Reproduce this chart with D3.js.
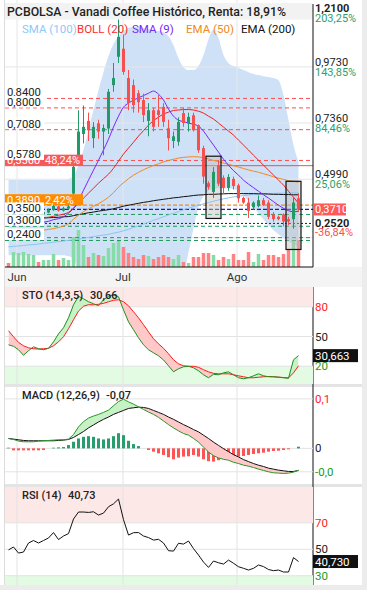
<!DOCTYPE html>
<html><head><meta charset="utf-8">
<script src="https://cdn.jsdelivr.net/npm/d3@7/dist/d3.min.js"></script>
<style>html,body{margin:0;padding:0;background:#fff}svg{display:block;font-family:Roboto,"Noto Sans",sans-serif}</style>
</head><body><svg id="chart" width="367" height="590"></svg>
<script>
const title = "PCBOLSA - Vanadi Coffee Histórico, Renta: 18,91%";
const monthIdx = [1.7, 22.9, 45.7];
const monthLabels = ["Jun", "Jul", "Ago"];
const open  = [0.340,0.332,0.325,0.326,0.336,0.348,0.358,0.350,0.358,0.368,0.384,0.366,0.375,0.438,0.585,0.690,0.745,0.672,0.735,0.700,0.713,0.896,1.016,1.050,0.926,0.896,0.862,0.833,0.745,0.790,0.790,0.804,0.714,0.660,0.657,0.778,0.734,0.769,0.727,0.630,0.482,0.445,0.558,0.505,0.462,0.500,0.473,0.420,0.400,0.380,0.385,0.410,0.400,0.350,0.340,0.350,0.330,0.330,0.418];
const high  = [0.348,0.350,0.340,0.340,0.355,0.362,0.362,0.365,0.375,0.392,0.388,0.382,0.392,0.580,0.790,0.810,0.780,0.740,0.750,0.730,0.880,0.990,1.210,1.110,0.960,0.920,0.875,0.860,0.820,0.800,0.854,0.820,0.750,0.700,0.760,0.800,0.780,0.780,0.730,0.640,0.490,0.550,0.580,0.515,0.520,0.510,0.480,0.425,0.420,0.405,0.430,0.420,0.410,0.360,0.345,0.355,0.340,0.420,0.440];
const low   = [0.330,0.328,0.320,0.322,0.333,0.345,0.345,0.347,0.355,0.365,0.362,0.362,0.370,0.395,0.560,0.650,0.660,0.630,0.670,0.600,0.690,0.868,0.990,0.940,0.790,0.780,0.780,0.740,0.680,0.700,0.720,0.720,0.620,0.630,0.640,0.720,0.700,0.700,0.610,0.480,0.455,0.420,0.470,0.440,0.450,0.455,0.400,0.395,0.335,0.370,0.380,0.385,0.330,0.320,0.325,0.300,0.305,0.290,0.360];
const close = [0.335,0.345,0.332,0.336,0.350,0.358,0.350,0.360,0.370,0.386,0.366,0.376,0.384,0.551,0.700,0.720,0.705,0.720,0.700,0.715,0.868,0.926,1.100,0.952,0.820,0.812,0.824,0.770,0.790,0.720,0.770,0.741,0.672,0.680,0.741,0.736,0.762,0.706,0.621,0.510,0.465,0.530,0.480,0.462,0.508,0.470,0.418,0.400,0.365,0.400,0.410,0.390,0.340,0.330,0.330,0.320,0.320,0.400,0.371];
const volume = [4000,15000,14000,15000,13000,12000,5000,7000,7000,13000,7000,9000,7000,30000,37000,22000,10000,14000,12000,11000,19000,24000,26000,20000,14000,10000,8000,12000,11000,8000,10000,12000,10000,8000,12000,5000,4000,10000,10000,14000,14000,12000,7000,10000,8000,13000,7000,7000,15000,5000,13000,7000,12000,12000,10000,13000,17000,27000,27000];
const sma100 = [0.213,0.215,0.217,0.219,0.221,0.223,0.225,0.228,0.230,0.233,0.235,0.238,0.240,0.243,0.246,0.249,0.253,0.256,0.260,0.263,0.266,0.271,0.275,0.281,0.287,0.295,0.302,0.309,0.317,0.325,0.332,0.340,0.348,0.355,0.362,0.370,0.376,0.383,0.389,0.395,0.400,0.406,0.411,0.416,0.420,0.424,0.427,0.430,0.432,0.435,0.436,0.438,0.438,0.439,0.440,0.440,0.440,0.441,0.441];
const ema200 = [0.328,0.329,0.330,0.331,0.332,0.333,0.334,0.335,0.336,0.337,0.338,0.340,0.341,0.345,0.349,0.353,0.357,0.360,0.364,0.367,0.370,0.374,0.379,0.385,0.389,0.393,0.397,0.401,0.404,0.408,0.411,0.414,0.417,0.420,0.422,0.425,0.427,0.430,0.432,0.433,0.435,0.435,0.436,0.437,0.438,0.438,0.438,0.438,0.438,0.438,0.437,0.437,0.436,0.435,0.435,0.434,0.434,0.433,0.433];
const ema50 = [0.266,0.269,0.271,0.273,0.275,0.278,0.280,0.283,0.287,0.290,0.295,0.301,0.311,0.330,0.347,0.362,0.374,0.385,0.395,0.408,0.423,0.442,0.465,0.484,0.501,0.516,0.528,0.539,0.548,0.557,0.564,0.572,0.578,0.583,0.588,0.591,0.593,0.594,0.593,0.590,0.584,0.578,0.573,0.567,0.562,0.556,0.550,0.544,0.538,0.533,0.528,0.522,0.516,0.509,0.503,0.498,0.493,0.490,0.486];
const sma9 = [0.313,0.311,0.309,0.309,0.311,0.313,0.315,0.317,0.321,0.328,0.332,0.340,0.355,0.376,0.410,0.452,0.495,0.537,0.579,0.622,0.668,0.719,0.765,0.803,0.820,0.833,0.843,0.852,0.862,0.871,0.858,0.833,0.795,0.765,0.748,0.742,0.736,0.731,0.723,0.702,0.672,0.643,0.613,0.583,0.558,0.535,0.516,0.495,0.478,0.463,0.448,0.433,0.419,0.404,0.389,0.376,0.366,0.361,0.364];
const bollMid = [0.334,0.334,0.332,0.330,0.330,0.332,0.334,0.336,0.338,0.342,0.347,0.351,0.359,0.376,0.397,0.419,0.440,0.461,0.482,0.501,0.520,0.545,0.575,0.605,0.630,0.655,0.681,0.704,0.727,0.746,0.761,0.774,0.782,0.789,0.791,0.793,0.793,0.791,0.786,0.778,0.765,0.753,0.736,0.719,0.702,0.685,0.664,0.643,0.622,0.600,0.579,0.558,0.537,0.516,0.495,0.474,0.448,0.423,0.397];
const bollUp = [0.495,0.495,0.495,0.495,0.495,0.495,0.495,0.495,0.495,0.495,0.495,0.495,0.499,0.512,0.558,0.622,0.706,0.791,0.875,0.951,1.019,1.070,1.103,1.125,1.137,1.142,1.142,1.137,1.133,1.129,1.125,1.120,1.103,1.065,1.010,0.972,0.960,0.960,0.977,1.023,1.090,1.130,1.095,1.023,0.989,0.977,0.968,0.960,0.951,0.943,0.939,0.934,0.930,0.926,0.917,0.854,0.748,0.643,0.571];
const bollLow = [0.178,0.178,0.178,0.178,0.178,0.178,0.178,0.178,0.178,0.178,0.178,0.178,0.173,0.165,0.114,0.114,0.114,0.114,0.114,0.114,0.114,0.114,0.114,0.114,0.114,0.114,0.114,0.114,0.114,0.114,0.114,0.114,0.114,0.114,0.114,0.114,0.190,0.292,0.381,0.427,0.448,0.457,0.461,0.461,0.461,0.457,0.452,0.431,0.406,0.381,0.355,0.330,0.304,0.283,0.266,0.249,0.237,0.224,0.211];
const stoK = [41.6,40.1,36.6,31.0,35.6,39.6,37.6,36.6,38.1,44.6,52.7,58.8,68.9,82.0,90.6,88.1,85.1,83.1,81.1,87.1,90.6,92.1,90.1,76.9,64.8,56.8,48.7,41.6,36.6,33.5,30.5,26.3,20.4,14.3,17.4,19.4,19.9,18.4,15.3,11.3,8.3,11.8,11.3,13.3,14.3,11.3,8.3,7.3,8.3,10.3,12.3,10.3,9.3,9.3,8.8,8.3,7.8,26.5,30.66];
const stoD = [55.8,49.7,44.1,40.6,38.6,37.6,37.3,37.6,38.1,40.6,44.6,49.7,57.8,66.9,75.6,80.6,82.1,82.0,82.5,83.5,85.1,86.6,87.1,85.1,81.0,75.0,68.9,61.9,54.7,47.7,42.6,38.1,32.5,26.5,22.4,20.4,19.9,19.9,18.9,16.4,14.3,12.8,12.3,12.3,12.3,11.3,10.3,9.3,8.3,8.3,8.8,9.3,9.6,9.3,9.0,8.5,8.1,13.3,20.4];
const macd = [0.030,0.027,0.022,0.020,0.020,0.020,0.022,0.023,0.024,0.025,0.026,0.026,0.028,0.042,0.065,0.081,0.092,0.098,0.103,0.109,0.116,0.129,0.142,0.149,0.141,0.134,0.126,0.118,0.110,0.103,0.094,0.083,0.072,0.062,0.053,0.045,0.040,0.030,0.019,0.004,-0.011,-0.022,-0.029,-0.033,-0.036,-0.042,-0.046,-0.051,-0.054,-0.058,-0.063,-0.067,-0.071,-0.074,-0.075,-0.076,-0.075,-0.072,-0.066];
const signal = [0.030,0.028,0.026,0.024,0.023,0.023,0.023,0.023,0.023,0.023,0.024,0.025,0.027,0.033,0.042,0.051,0.062,0.071,0.080,0.088,0.095,0.103,0.109,0.115,0.121,0.123,0.125,0.124,0.121,0.115,0.109,0.103,0.095,0.088,0.080,0.072,0.065,0.057,0.050,0.040,0.030,0.019,0.009,-0.001,-0.010,-0.019,-0.026,-0.034,-0.040,-0.046,-0.051,-0.055,-0.060,-0.063,-0.066,-0.068,-0.070,-0.070,-0.067];
const hist = [0.002,-0.006,-0.006,-0.006,-0.006,-0.006,-0.006,-0.005,0,0.002,0.003,0.004,0.010,0.020,0.030,0.035,0.037,0.035,0.030,0.027,0.030,0.037,0.046,0.040,0.023,0.013,0.007,0,-0.005,-0.010,-0.015,-0.020,-0.027,-0.033,-0.028,-0.025,-0.024,-0.020,-0.025,-0.033,-0.039,-0.040,-0.036,-0.033,-0.030,-0.027,-0.025,-0.023,-0.020,-0.017,-0.015,-0.013,-0.010,-0.008,-0.007,-0.005,-0.003,0,0.005];
const rsi = [49.5,51.7,47.1,47.9,54.7,56.6,54.7,56.6,58.5,62.6,57.3,60.0,61.8,72.8,78.1,78.1,77.8,78.3,75.8,77.3,82.1,84.3,87.9,72.3,60.7,62.5,62.6,60.0,58.8,56.9,57.5,54.7,48.9,48.6,54.5,53.9,56.2,50.5,45.6,40.3,36.3,41.1,39.8,38.8,41.8,39.4,36.8,35.6,34.3,35.6,38.1,36.9,34.7,33.8,34.3,32.8,32.8,43.7,40.73];
const priceTicks = [1.21, 0.973, 0.736, 0.499, 0.252];
const pctLabels = ["203,25%", "143,85%", "84,46%", "25,06%", "-36,84%"];
const resistances = [0.84, 0.80, 0.708, 0.578];
const supports = [0.35, 0.30, 0.252, 0.24];
const supportLabels = [0.35, 0.30, 0.24];
const dottedLevel = 0.312;
const redLevel = 0.556, redLevelPct = "48,24%";
const orangeLevel = 0.389, orangeLevelPct = "2,42%";
const lastPrice = 0.371;
const boxes = [{from: 40, to: 42, top: 0.596, bottom: 0.333}, {from: 56, to: 58, top: 0.490, bottom: 0.202}];
const legendNames = ["SMA (100)", "BOLL (20)", "SMA (9)", "EMA (50)", "EMA (200)"];

const svg = d3.select("#chart");
const N = close.length;
const L = 5, R = 313;
const x = d3.scaleLinear().domain([0, N - 1]).range([8.5, 298.5]);
const yP = d3.scaleLinear().domain([0.128, 1.2557]).range([267, 0]);
const yV = d3.scaleLinear().domain([0, 37000]).range([267, 230]);
const yS = d3.scaleLinear().domain([2, 100]).range([384, 287]);
const yM = d3.scaleLinear().domain([-0.108, 0.186]).range([484, 387]);
const yR = d3.scaleLinear().domain([23, 97]).range([585, 487]);
const f4 = v => d3.format(".4f")(v).replace(".", ",");
const idx = d3.range(N);
const GREEN = "#23996a", RED = "#f5504e";

svg.append("rect").attr("width", 367).attr("height", 590).attr("fill", "#fff");
svg.append("rect").attr("x", 362).attr("y", 0).attr("width", 5).attr("height", 590).attr("fill", "#ececec");
svg.append("rect").attr("x", 0).attr("y", 585).attr("width", 367).attr("height", 5).attr("fill", "#ececec");
svg.append("rect").attr("x", L).attr("y", 267).attr("width", 357).attr("height", 20).attr("fill", "#f4f4f4");
svg.append("rect").attr("x", L).attr("y", 384).attr("width", 357).attr("height", 3).attr("fill", "#e4e4e4");
svg.append("rect").attr("x", L).attr("y", 484).attr("width", 357).attr("height", 3).attr("fill", "#e4e4e4");
svg.append("line").attr("x1", 4.5).attr("x2", 4.5).attr("y1", 0).attr("y2", 585).attr("stroke", "#dcdcdc");

const defs = svg.append("defs");
defs.append("clipPath").attr("id", "mainClip").append("rect").attr("x", L).attr("y", 0).attr("width", R - L).attr("height", 267);
const main = svg.append("g").attr("clip-path", "url(#mainClip)");

main.append("path").datum(idx)
  .attr("d", d3.area().x(i => x(i)).y0(i => yP(bollLow[i])).y1(i => yP(bollUp[i])).curve(d3.curveMonotoneX))
  .attr("fill", "#cfe1f7");

priceTicks.forEach(t => main.append("line").attr("x1", L).attr("x2", R).attr("y1", yP(t)).attr("y2", yP(t)).attr("stroke", "#e6e6e6"));
monthIdx.forEach(m => main.append("line").attr("x1", x(m)).attr("x2", x(m)).attr("y1", 0).attr("y2", 267).attr("stroke", "#e6e6e6"));

main.selectAll(".vol").data(idx).enter().append("rect")
  .attr("x", i => x(i) - 1.75).attr("width", 3.5)
  .attr("y", i => yV(volume[i])).attr("height", i => 267 - yV(volume[i]))
  .attr("fill", i => close[i] >= open[i] ? "#86dca6" : "#ff8282");

function hline(v, color, dash, w) {
  main.append("line").attr("x1", L).attr("x2", R).attr("y1", yP(v)).attr("y2", yP(v))
    .attr("stroke", color).attr("stroke-width", w || 1).attr("stroke-dasharray", dash);
}
resistances.forEach(v => hline(v, "#ff4d4d", "4,3"));
hline(redLevel, "#f05050", null, 1);
hline(orangeLevel, "#f08c1a", "4,2", 1.2);
hline(lastPrice, "#1a1acc", "4,2", 1.3);
hline(dottedLevel, "#222", "2,2", 1);
supports.forEach(v => hline(v, "#1e9a5a", "4,3"));

boxes.forEach(b => main.append("rect").attr("x", x(b.from) - 2.5).attr("width", x(b.to) - x(b.from) + 5)
  .attr("y", yP(b.top)).attr("height", yP(b.bottom) - yP(b.top)).attr("fill", "rgba(190,190,190,0.45)"));

const lineGen = arr => d3.line().x(i => x(i)).y(i => yP(arr[i])).curve(d3.curveMonotoneX)(idx);
[[sma100, "#8cc4f2"], [ema200, "#111"], [ema50, "#ee8a22"], [bollMid, "#ee2222"], [sma9, "#7a28f5"]]
  .forEach(([arr, c]) => main.append("path").attr("d", lineGen(arr)).attr("fill", "none").attr("stroke", c).attr("stroke-width", 1));

const cg = main.append("g");
idx.forEach(i => {
  const up = close[i] >= open[i];
  const c = up ? GREEN : RED;
  cg.append("line").attr("x1", x(i)).attr("x2", x(i)).attr("y1", yP(high[i])).attr("y2", yP(low[i])).attr("stroke", c).attr("stroke-width", 1);
  const yt = yP(Math.max(open[i], close[i])), yb = yP(Math.min(open[i], close[i]));
  cg.append("rect").attr("x", x(i) - 1.5).attr("width", 3).attr("y", yt).attr("height", Math.max(1, yb - yt)).attr("fill", c);
});
boxes.forEach(b => main.append("rect").attr("x", x(b.from) - 2.5).attr("width", x(b.to) - x(b.from) + 5)
  .attr("y", yP(b.top)).attr("height", yP(b.bottom) - yP(b.top)).attr("fill", "none").attr("stroke", "#111").attr("stroke-width", 1.2));

svg.append("rect").attr("x", L).attr("y", 3).attr("width", R - L - 1).attr("height", 16.5).attr("fill", "#f2f2f2");
svg.append("text").attr("x", 7).attr("y", 15.5).attr("font-size", 12.3).attr("font-weight", 500).attr("fill", "#222").text(title);
const legendColors = ["#90c8f6", "#ff2a2a", "#7a28f5", "#ee8a22", "#111"];
const legendX = [22, 77, 132, 186, 241];
legendNames.forEach((n, k) => svg.append("text").attr("x", legendX[k]).attr("y", 33).attr("font-size", 11.5).attr("fill", legendColors[k]).text(n));

function colorBox(v, bg, t1, t2) {
  const y = yP(v);
  svg.append("rect").attr("x", L).attr("y", y - 11).attr("width", 78).attr("height", 11).attr("fill", bg);
  svg.append("text").attr("x", 7).attr("y", y - 1.5).attr("font-size", 11).attr("fill", "#fff").text(t1);
  svg.append("text").attr("x", 45).attr("y", y - 1.5).attr("font-size", 11).attr("fill", "#fff").text(t2);
}
colorBox(redLevel, "#f55a5a", f4(redLevel), redLevelPct);
colorBox(orangeLevel, "#ff8c00", f4(orangeLevel), orangeLevelPct);
function whiteLabel(v) {
  const y = yP(v);
  svg.append("rect").attr("x", L).attr("y", y - 12).attr("width", 39).attr("height", 11.5).attr("fill", "#fff");
  svg.append("text").attr("x", 7).attr("y", y - 2).attr("font-size", 11.3).attr("fill", "#222").text(f4(v));
}
resistances.forEach(whiteLabel);
supportLabels.forEach(whiteLabel);

svg.append("line").attr("x1", L).attr("x2", R).attr("y1", 267).attr("y2", 267).attr("stroke", "#111");
svg.append("line").attr("x1", R).attr("x2", R).attr("y1", 4).attr("y2", 267).attr("stroke", "#111");
svg.append("line").attr("x1", R).attr("x2", R).attr("y1", 287).attr("y2", 585).attr("stroke", "#111");

const offs = [[-2.5, 7.5], [-5, 5], [-5, 5], [-5, 5], [-14.5, -5]];
priceTicks.forEach((t, k) => {
  const y = yP(t);
  const bold = (k === 0 || k === priceTicks.length - 1);
  svg.append("text").attr("x", 315).attr("y", y + offs[k][0]).attr("dy", "0.35em").attr("font-size", 11)
    .attr("font-weight", bold ? 700 : 400).attr("fill", "#222").text(f4(t));
  svg.append("text").attr("x", 315).attr("y", y + offs[k][1]).attr("dy", "0.35em").attr("font-size", 11)
    .attr("fill", pctLabels[k][0] === "-" ? "#ff4d4d" : "#2e9e6e").text(pctLabels[k]);
});
svg.append("rect").attr("x", R).attr("y", yP(lastPrice) - 6).attr("width", 33).attr("height", 12).attr("fill", "#ff5a5a");
svg.append("text").attr("x", 315).attr("y", yP(lastPrice)).attr("dy", "0.35em").attr("font-size", 11).attr("fill", "#fff").text(f4(lastPrice));

monthIdx.forEach((m, k) => svg.append("text").attr("x", x(m)).attr("y", 281).attr("text-anchor", "middle").attr("font-size", 11.5).attr("fill", "#333").text(monthLabels[k]));

function band(y1, y2, color) { svg.append("rect").attr("x", L).attr("width", R - L).attr("y", y1).attr("height", y2 - y1).attr("fill", color); }
function gridPanel(y1, y2, levels, ys) {
  levels.forEach(v => svg.append("line").attr("x1", L).attr("x2", R).attr("y1", ys(v)).attr("y2", ys(v)).attr("stroke", "#e3e3e3"));
  monthIdx.forEach(m => svg.append("line").attr("x1", x(m)).attr("x2", x(m)).attr("y1", y1).attr("y2", y2).attr("stroke", "#e3e3e3"));
}
function fillBetween(a, b, ys, id, up, down, y1, y2) {
  const area = d3.area().x(i => x(i)).y0(i => ys(b[i])).y1(i => ys(a[i]));
  defs.append("clipPath").attr("id", id + "A").append("path").attr("d", d3.area().x(i => x(i)).y0(y1).y1(i => ys(b[i]))(idx));
  defs.append("clipPath").attr("id", id + "B").append("path").attr("d", d3.area().x(i => x(i)).y0(i => ys(b[i])).y1(y2)(idx));
  svg.append("path").attr("d", area(idx)).attr("fill", up).attr("clip-path", `url(#${id}A)`);
  svg.append("path").attr("d", area(idx)).attr("fill", down).attr("clip-path", `url(#${id}B)`);
}
function plotLine(arr, ys, c, w) {
  svg.append("path").attr("d", d3.line().x(i => x(i)).y(i => ys(arr[i]))(idx)).attr("fill", "none").attr("stroke", c).attr("stroke-width", w || 1);
}
function rightLabel(y, t, c) { svg.append("text").attr("x", 315).attr("y", y).attr("dy", "0.35em").attr("font-size", 11.5).attr("fill", c).text(t); }
function valueBox(y, t) {
  svg.append("rect").attr("x", R).attr("y", y - 6.5).attr("width", 45).attr("height", 13).attr("fill", "#111");
  svg.append("text").attr("x", 315).attr("y", y).attr("dy", "0.35em").attr("font-size", 11.5).attr("fill", "#fff").text(t);
}
function panelTitle(y, a, b, bx) {
  svg.append("text").attr("x", 22).attr("y", y).attr("font-size", 11).attr("font-weight", 500).attr("fill", "#222").text(a);
  svg.append("text").attr("x", bx).attr("y", y).attr("font-size", 11).attr("font-weight", 500).attr("fill", "#222").text(b);
}

band(287, yS(80), "#fde8e8");
band(yS(20), 384, "#e2fbe2");
gridPanel(287, 384, [80, 50, 20], yS);
fillBetween(stoK, stoD, yS, "sto", "#c6f2c6", "#ffc9c9", 287, 384);
plotLine(stoD, yS, "#ff1a1a");
plotLine(stoK, yS, "#1f8f1f");
panelTitle(298.5, "STO (14,3,5)", "30,66", 90);
rightLabel(yS(80), "80", "#ff1a1a");
rightLabel(yS(50), "50", "#222");
rightLabel(yS(20), "20", "#1a9a1a");
valueBox(yS(stoK[N - 1]), "30,663");

gridPanel(387, 484, [0.15, 0, -0.071], yM);
svg.selectAll(".hist").data(idx).enter().append("rect")
  .attr("x", i => x(i) - 1.5).attr("width", 3)
  .attr("y", i => yM(Math.max(0, hist[i]))).attr("height", i => Math.abs(yM(hist[i]) - yM(0)))
  .attr("fill", i => hist[i] >= 0 ? "#2a9d6e" : "#ff5252");
fillBetween(macd, signal, yM, "macd", "#c6f2c6", "#ffc9c9", 387, 484);
plotLine(signal, yM, "#111");
plotLine(macd, yM, "#2a962a");
panelTitle(398.5, "MACD (12,26,9)", "-0,07", 106);
rightLabel(yM(0.15), "0,1", "#ff1a1a");
rightLabel(yM(0), "0", "#222");
rightLabel(yM(-0.071), "-0,0", "#1a9a1a");

band(487, yR(70), "#fde8e8");
band(yR(30), 585, "#e2fbe2");
gridPanel(487, 585, [70, 50, 30], yR);
plotLine(rsi, yR, "#111");
panelTitle(498.5, "RSI (14)", "40,73", 68);
rightLabel(yR(70), "70", "#ff1a1a");
rightLabel(yR(50), "50", "#222");
rightLabel(yR(30), "30", "#1a9a1a");
valueBox(yR(rsi[N - 1]), "40,730");
</script></body></html>
